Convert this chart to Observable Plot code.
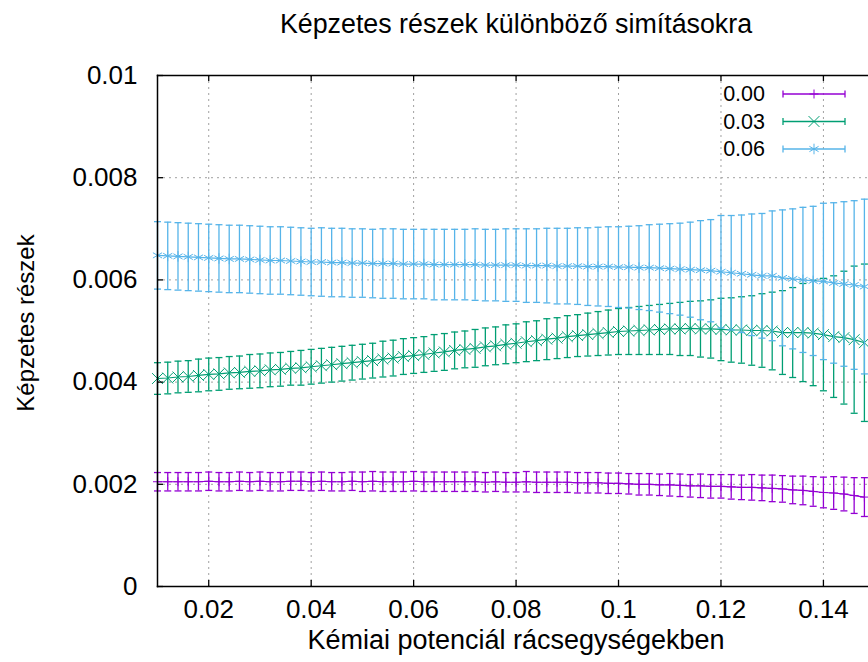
<!DOCTYPE html>
<html><head><meta charset="utf-8">
<script src="https://cdn.jsdelivr.net/npm/d3@7"></script>
<script src="https://cdn.jsdelivr.net/npm/@observablehq/plot@0.6"></script>
<style>
body{margin:0;background:#fff;font-family:"Liberation Sans",Arial,sans-serif;}
#wrap{position:relative;width:868px;height:662px;overflow:hidden}
#title{height:50px;position:relative}
#title span{position:absolute;left:516px;top:8.5px;transform:translateX(-50%);font-size:26.8px;white-space:nowrap;color:#000;line-height:normal}
#chart svg{display:block}
#legend{position:absolute;left:0;top:0}
</style></head><body>
<div id="wrap"><div id="title"><span id="titletext"></span></div><div id="chart"></div><svg id="legend" width="868" height="180"></svg></div>
<script>
// ---- data ----
const xs = [0.010,0.012,0.014,0.016,0.018,0.020,0.022,0.024,0.026,0.028,
0.030,0.032,0.034,0.036,0.038,0.040,0.042,0.044,0.046,0.048,
0.050,0.052,0.054,0.056,0.058,0.060,0.062,0.064,0.066,0.068,
0.070,0.072,0.074,0.076,0.078,0.080,0.082,0.084,0.086,0.088,
0.090,0.092,0.094,0.096,0.098,0.100,0.102,0.104,0.106,0.108,
0.110,0.112,0.114,0.116,0.118,0.120,0.122,0.124,0.126,0.128,
0.130,0.132,0.134,0.136,0.138,0.140,0.142,0.144,0.146,0.148];

const c000 = [0.00205,0.00205,0.00205,0.00205,0.00205,0.00206,0.00205,0.00205,0.00206,0.00205,
0.00206,0.00205,0.00205,0.00206,0.00206,0.00205,0.00206,0.00205,0.00205,0.00206,
0.00205,0.00206,0.00205,0.00205,0.00205,0.00206,0.00205,0.00205,0.00205,0.00205,
0.00205,0.00205,0.00204,0.00205,0.00204,0.00204,0.00205,0.00204,0.00204,0.00204,
0.00204,0.00203,0.00203,0.00203,0.00202,0.00202,0.00201,0.00200,0.00200,0.00199,
0.00199,0.00198,0.00197,0.00197,0.00196,0.00196,0.00195,0.00194,0.00194,0.00193,
0.00192,0.00191,0.00189,0.00188,0.00186,0.00184,0.00183,0.00181,0.00178,0.00175];
const e000 = [0.00018,0.00018,0.00018,0.00018,0.00018,0.00018,0.00018,0.00018,0.00018,0.00018,
0.00018,0.00018,0.00018,0.00018,0.00018,0.00018,0.00018,0.00018,0.00018,0.00018,
0.00019,0.00019,0.00019,0.00019,0.00019,0.00019,0.00019,0.00019,0.00019,0.00019,
0.00019,0.00019,0.00019,0.00019,0.00019,0.00019,0.00020,0.00020,0.00020,0.00020,
0.00020,0.00020,0.00020,0.00020,0.00020,0.00020,0.00020,0.00021,0.00021,0.00021,
0.00022,0.00022,0.00022,0.00023,0.00023,0.00023,0.00024,0.00024,0.00025,0.00025,
0.00026,0.00026,0.00027,0.00028,0.00029,0.00030,0.00032,0.00033,0.00035,0.00038];

const c003 = [0.00407,0.00408,0.00410,0.00411,0.00413,0.00415,0.00416,0.00418,0.00419,0.00421,
0.00422,0.00424,0.00425,0.00427,0.00428,0.00430,0.00432,0.00434,0.00436,0.00438,
0.00440,0.00442,0.00445,0.00447,0.00450,0.00452,0.00454,0.00457,0.00459,0.00462,
0.00464,0.00466,0.00469,0.00471,0.00474,0.00476,0.00479,0.00481,0.00484,0.00486,
0.00489,0.00491,0.00493,0.00495,0.00497,0.00499,0.00500,0.00501,0.00502,0.00503,
0.00504,0.00504,0.00505,0.00504,0.00504,0.00503,0.00502,0.00502,0.00501,0.00501,
0.00500,0.00497,0.00497,0.00497,0.00496,0.00493,0.00489,0.00487,0.00483,0.00477];
const e003 = [0.00031,0.00031,0.00031,0.00031,0.00032,0.00032,0.00032,0.00032,0.00032,0.00033,
0.00033,0.00033,0.00033,0.00033,0.00034,0.00034,0.00034,0.00034,0.00034,0.00034,
0.00034,0.00034,0.00035,0.00035,0.00035,0.00035,0.00035,0.00036,0.00036,0.00036,
0.00036,0.00037,0.00037,0.00037,0.00038,0.00038,0.00039,0.00039,0.00040,0.00040,
0.00041,0.00041,0.00042,0.00043,0.00044,0.00045,0.00046,0.00047,0.00048,0.00049,
0.00050,0.00052,0.00053,0.00055,0.00057,0.00061,0.00063,0.00065,0.00068,0.00072,
0.00076,0.00082,0.00088,0.00096,0.00103,0.00110,0.00119,0.00130,0.00144,0.00154];

const c006 = [0.00648,0.00647,0.00646,0.00645,0.00644,0.00643,0.00642,0.00641,0.00641,0.00640,
0.00639,0.00638,0.00638,0.00637,0.00636,0.00635,0.00635,0.00634,0.00634,0.00633,
0.00633,0.00632,0.00632,0.00632,0.00631,0.00631,0.00631,0.00630,0.00630,0.00630,
0.00630,0.00630,0.00629,0.00629,0.00629,0.00629,0.00628,0.00628,0.00628,0.00627,
0.00627,0.00627,0.00626,0.00626,0.00626,0.00625,0.00625,0.00624,0.00624,0.00623,
0.00622,0.00621,0.00620,0.00619,0.00618,0.00616,0.00614,0.00612,0.00610,0.00608,
0.00608,0.00604,0.00602,0.00600,0.00598,0.00597,0.00594,0.00592,0.00590,0.00587];
const e006 = [0.00066,0.00066,0.00066,0.00066,0.00066,0.00066,0.00066,0.00066,0.00066,0.00066,
0.00066,0.00066,0.00066,0.00066,0.00066,0.00066,0.00067,0.00067,0.00067,0.00067,
0.00067,0.00067,0.00068,0.00068,0.00068,0.00068,0.00068,0.00069,0.00069,0.00069,
0.00069,0.00070,0.00070,0.00070,0.00071,0.00071,0.00072,0.00072,0.00073,0.00074,
0.00074,0.00075,0.00076,0.00077,0.00078,0.00079,0.00080,0.00082,0.00084,0.00086,
0.00088,0.00090,0.00093,0.00097,0.00100,0.00110,0.00112,0.00115,0.00119,0.00122,
0.00127,0.00133,0.00137,0.00142,0.00146,0.00153,0.00157,0.00161,0.00165,0.00171];

const seriesNames = ["0.00","0.03","0.06"];
const seriesColors = ["#9400d3","#009e73","#56b4e9"];
const seriesSymbols = ["plus","times","asterisk"];
const xTicks = [0.02,0.04,0.06,0.08,0.10,0.12,0.14];
const xTickLabels = ["0.02","0.04","0.06","0.08","0.1","0.12","0.14"];
const yTicks = [0,0.002,0.004,0.006,0.008,0.010];
const yTickLabels = ["0","0.002","0.004","0.006","0.008","0.01"];
const title = "Képzetes részek különböző simításokra";
const xLabel = "Kémiai potenciál rácsegységekben";
const yLabel = "Képzetes részek";

// ---- build ----
document.getElementById("titletext").textContent = title;
const centers = [c000,c003,c006], errs = [e000,e003,e006];
const data = seriesNames.map((name,s)=>xs.map((x,i)=>({key:name,x,y:centers[s][i],lo:centers[s][i]-errs[s][i],hi:centers[s][i]+errs[s][i]})));

const W = 868, H = 612, mT = 25, mB = 76, mL = 157, mR = 0;
const frameH = H - mT - mB, frameW = W - mL - mR;
const capSym = {draw(ctx){ctx.moveTo(-3.5,0);ctx.lineTo(3.5,0);}};
const symR = [3,5,5];
const FONT = '"Liberation Sans",Arial,sans-serif';

const marks = [
  Plot.gridX(xTicks,{stroke:"#a0a0a0",strokeOpacity:1,strokeDasharray:"2,4",strokeWidth:1}),
  Plot.gridY(yTicks,{stroke:"#a0a0a0",strokeOpacity:1,strokeDasharray:"2,4",strokeWidth:1}),
];
data.forEach((rows,s)=>{
  const col = seriesColors[s];
  marks.push(
    Plot.ruleX(rows,{x:"x",y1:"lo",y2:"hi",stroke:col,strokeWidth:1.3}),
    Plot.dot(rows,{x:"x",y:"lo",symbol:capSym,fill:"none",stroke:col,strokeWidth:1.3}),
    Plot.dot(rows,{x:"x",y:"hi",symbol:capSym,fill:"none",stroke:col,strokeWidth:1.3}),
    Plot.line(rows,{x:"x",y:"y",stroke:col,strokeWidth:1.2}),
    Plot.dot(rows,{x:"x",y:"y",symbol:seriesSymbols[s],r:symR[s],fill:"none",stroke:col,strokeWidth:1})
  );
});
marks.push(
  Plot.frame({anchor:"top",stroke:"#000",strokeWidth:1.5}),
  Plot.frame({anchor:"left",stroke:"#000",strokeWidth:1.5}),
  Plot.frame({anchor:"bottom",stroke:"#000",strokeWidth:1.5}),
  Plot.tickX(xTicks,{x:d=>d,insetTop:frameH-6,stroke:"#000",strokeWidth:1.3}),
  Plot.tickX(xTicks,{x:d=>d,insetBottom:frameH-6,stroke:"#000",strokeWidth:1.3}),
  Plot.tickY(yTicks,{y:d=>d,insetRight:frameW-6,stroke:"#000",strokeWidth:1.3}),
  Plot.axisX(xTicks,{tickSize:0,tickPadding:13,tickFormat:d=>xTickLabels[xTicks.indexOf(d)],fontSize:26,label:null,fill:"#000"}),
  Plot.axisY(yTicks,{tickSize:0,tickPadding:20,tickFormat:d=>yTickLabels[yTicks.indexOf(d)],fontSize:26,label:null,fill:"#000"}),
  Plot.text([yLabel],{frameAnchor:"left",textAnchor:"middle",dx:-131,dy:-8,rotate:-90,fontSize:24,fill:"#000"}),
  Plot.text([xLabel],{frameAnchor:"bottom",textAnchor:"middle",dx:3,dy:62,fontSize:27,fill:"#000"})
);

const chart = Plot.plot({
  width:W,height:H,marginTop:mT,marginBottom:mB,marginLeft:mL,marginRight:mR,
  style:{fontFamily:FONT,fontSize:"21px",background:"#fff",overflow:"visible"},
  x:{domain:[0.01,0.1488]},
  y:{domain:[0,0.01]},
  marks
});
document.getElementById("chart").appendChild(chart);

// ---- legend (overlay, top-right inside plot) ----
const lg = d3.select("#legend");
seriesNames.forEach((name,s)=>{
  const y = 94 + s*27.5, col = seriesColors[s];
  lg.append("text").attr("x",765).attr("y",y).attr("text-anchor","end").attr("dominant-baseline","central")
    .attr("font-size",21.5).attr("font-family",FONT).attr("fill","#000").text(name);
  lg.append("line").attr("x1",783).attr("x2",845).attr("y1",y).attr("y2",y).attr("stroke",col).attr("stroke-width",1.3);
  [783,845].forEach(x=>lg.append("line").attr("x1",x).attr("x2",x).attr("y1",y-3.5).attr("y2",y+3.5).attr("stroke",col).attr("stroke-width",1.3));
  const st = {plus:d3.symbolPlus,times:d3.symbolTimes,asterisk:d3.symbolAsterisk}[seriesSymbols[s]];
  lg.append("path").attr("transform",`translate(814,${y})`).attr("d",d3.symbol(st,Math.PI*symR[s]*symR[s])())
    .attr("fill","none").attr("stroke",col).attr("stroke-width",1);
});
</script>
</body></html>
